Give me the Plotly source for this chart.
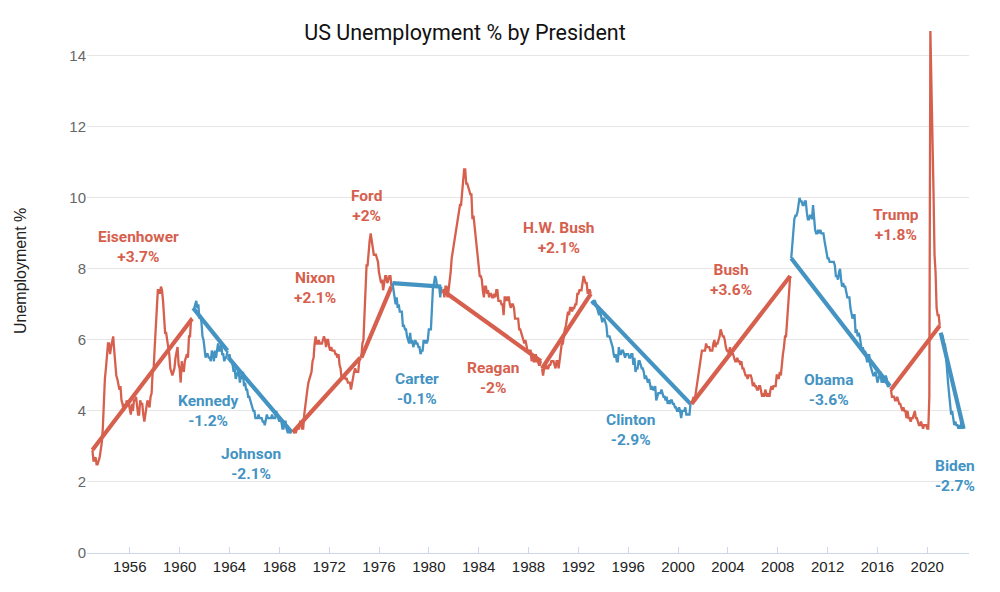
import plotly.graph_objects as go

# Monthly US unemployment rate (%) per presidency; start = (year, month)
eisenhower_start = (1953, 1)
eisenhower = [2.9, 2.6, 2.6, 2.7, 2.5, 2.5, 2.6, 2.7, 2.9, 3.1, 3.5, 4.5,
              4.9, 5.2, 5.7, 5.9, 5.9, 5.6, 5.8, 6.0, 6.1, 5.7, 5.3, 5.0,
              4.9, 4.7, 4.6, 4.7, 4.3, 4.2, 4.0, 4.2, 4.1, 4.3, 4.2, 4.2,
              4.0, 3.9, 4.2, 4.0, 4.3, 4.3, 4.4, 4.1, 3.9, 3.9, 4.3, 4.2,
              4.2, 3.9, 3.7, 3.9, 4.1, 4.3, 4.2, 4.1, 4.4, 4.5, 5.1, 5.2,
              5.8, 6.4, 6.7, 7.4, 7.4, 7.3, 7.5, 7.4, 7.1, 6.7, 6.2, 6.2,
              6.0, 5.9, 5.6, 5.2, 5.1, 5.0, 5.1, 5.2, 5.5, 5.7, 5.8, 5.3,
              5.2, 4.8, 5.4, 5.2, 5.1, 5.4, 5.5, 5.6, 5.5, 6.1, 6.1, 6.6,
              6.6]
kennedy_start = (1961, 2)
kennedy = [6.9, 6.9, 7.0, 7.1, 6.9, 7.0, 6.6, 6.7, 6.5, 6.1, 6.0,
           5.8, 5.5, 5.6, 5.6, 5.5, 5.5, 5.4, 5.7, 5.6, 5.4, 5.7, 5.5,
           5.7, 5.9, 5.7, 5.7, 5.9, 5.6, 5.6, 5.4, 5.5, 5.5, 5.7]
johnson_start = (1963, 12)
johnson = [5.5,
           5.6, 5.4, 5.4, 5.3, 5.1, 5.2, 4.9, 5.0, 5.1, 5.1, 4.8, 5.0,
           4.9, 5.1, 4.7, 4.8, 4.6, 4.6, 4.4, 4.4, 4.3, 4.2, 4.1, 4.0,
           4.0, 3.8, 3.8, 3.8, 3.9, 3.8, 3.8, 3.8, 3.7, 3.7, 3.6, 3.8,
           3.9, 3.8, 3.8, 3.8, 3.8, 3.9, 3.8, 3.8, 3.8, 4.0, 3.9, 3.8,
           3.7, 3.8, 3.7, 3.5, 3.5, 3.7, 3.7, 3.5, 3.4, 3.4, 3.4, 3.4,
           3.4]
nixon_start = (1969, 2)
nixon = [3.4, 3.4, 3.4, 3.4, 3.5, 3.5, 3.5, 3.7, 3.7, 3.5, 3.5,
         3.9, 4.2, 4.4, 4.6, 4.8, 4.9, 5.0, 5.1, 5.4, 5.5, 5.9, 6.1,
         5.9, 5.9, 6.0, 5.9, 5.9, 5.9, 6.0, 6.1, 6.0, 5.8, 6.0, 6.0,
         5.8, 5.7, 5.8, 5.7, 5.7, 5.7, 5.6, 5.6, 5.5, 5.6, 5.3, 5.2,
         4.9, 5.0, 4.9, 5.0, 4.9, 4.9, 4.8, 4.8, 4.8, 4.6, 4.8, 4.9,
         5.1, 5.2, 5.1, 5.1, 5.1, 5.4, 5.5]
ford_start = (1974, 8)
ford = [5.5, 5.9, 6.0, 6.6, 7.2,
        8.1, 8.1, 8.6, 8.8, 9.0, 8.8, 8.6, 8.4, 8.4, 8.4, 8.3, 8.2,
        7.9, 7.7, 7.6, 7.7, 7.4, 7.6, 7.8, 7.8, 7.6, 7.7, 7.8, 7.8,
        7.5]
carter_start = (1977, 2)
carter = [7.6, 7.4, 7.2, 7.0, 7.2, 6.9, 7.0, 6.8, 6.8, 6.8, 6.4,
          6.4, 6.3, 6.3, 6.1, 6.0, 5.9, 6.2, 5.9, 6.0, 5.8, 5.9, 6.0,
          5.9, 5.9, 5.8, 5.8, 5.6, 5.7, 5.7, 6.0, 5.9, 6.0, 5.9, 6.0,
          6.3, 6.3, 6.3, 6.9, 7.5, 7.6, 7.8, 7.7, 7.5, 7.5, 7.5, 7.2,
          7.5]
reagan_start = (1981, 2)
reagan = [7.4, 7.4, 7.2, 7.5, 7.5, 7.2, 7.4, 7.6, 7.9, 8.3, 8.5,
          8.6, 8.9, 9.0, 9.3, 9.4, 9.6, 9.8, 9.8, 10.1, 10.4, 10.8, 10.8,
          10.4, 10.4, 10.3, 10.2, 10.1, 10.1, 9.4, 9.5, 9.2, 8.8, 8.5, 8.3,
          8.0, 7.8, 7.8, 7.7, 7.4, 7.2, 7.5, 7.5, 7.3, 7.4, 7.2, 7.3,
          7.3, 7.2, 7.2, 7.3, 7.2, 7.4, 7.4, 7.1, 7.1, 7.1, 7.0, 7.0,
          6.7, 7.2, 7.2, 7.1, 7.2, 7.2, 7.0, 6.9, 7.0, 7.0, 6.9, 6.6,
          6.6, 6.6, 6.6, 6.3, 6.3, 6.2, 6.1, 6.0, 5.9, 6.0, 5.8, 5.7,
          5.7, 5.7, 5.7, 5.4, 5.6, 5.4, 5.4, 5.6, 5.4, 5.4, 5.3, 5.3,
          5.4]
hw_bush_start = (1989, 2)
hw_bush = [5.2, 5.0, 5.2, 5.2, 5.3, 5.2, 5.2, 5.3, 5.3, 5.4, 5.4,
           5.4, 5.3, 5.2, 5.4, 5.4, 5.2, 5.5, 5.7, 5.9, 5.9, 6.2, 6.3,
           6.4, 6.6, 6.8, 6.7, 6.9, 6.9, 6.8, 6.9, 6.9, 7.0, 7.0, 7.3,
           7.3, 7.4, 7.4, 7.4, 7.6, 7.8, 7.7, 7.6, 7.6, 7.3, 7.4, 7.4,
           7.3]
clinton_start = (1993, 2)
clinton = [7.1, 7.0, 7.1, 7.1, 7.0, 6.9, 6.8, 6.7, 6.8, 6.6, 6.5,
           6.6, 6.6, 6.5, 6.4, 6.1, 6.1, 6.1, 6.0, 5.9, 5.8, 5.6, 5.5,
           5.6, 5.4, 5.4, 5.8, 5.6, 5.6, 5.7, 5.7, 5.6, 5.5, 5.6, 5.6,
           5.6, 5.5, 5.5, 5.6, 5.6, 5.3, 5.5, 5.1, 5.2, 5.2, 5.4, 5.4,
           5.3, 5.2, 5.2, 5.1, 4.9, 5.0, 4.9, 4.8, 4.9, 4.7, 4.6, 4.7,
           4.6, 4.6, 4.7, 4.3, 4.4, 4.5, 4.5, 4.5, 4.6, 4.5, 4.4, 4.4,
           4.3, 4.4, 4.2, 4.3, 4.2, 4.3, 4.3, 4.2, 4.2, 4.1, 4.1, 4.0,
           4.0, 4.1, 4.0, 3.8, 4.0, 4.0, 4.0, 4.1, 3.9, 3.9, 3.9, 3.9,
           4.2]
bush_start = (2001, 2)
bush = [4.2, 4.3, 4.4, 4.3, 4.5, 4.6, 4.9, 5.0, 5.3, 5.5, 5.7,
        5.7, 5.7, 5.7, 5.9, 5.8, 5.8, 5.8, 5.7, 5.7, 5.7, 5.9, 6.0,
        5.8, 5.9, 5.9, 6.0, 6.1, 6.3, 6.2, 6.1, 6.1, 6.0, 5.8, 5.7,
        5.7, 5.6, 5.8, 5.6, 5.6, 5.6, 5.5, 5.4, 5.4, 5.5, 5.4, 5.4,
        5.3, 5.4, 5.2, 5.2, 5.1, 5.0, 5.0, 4.9, 5.0, 5.0, 5.0, 4.9,
        4.7, 4.8, 4.7, 4.7, 4.6, 4.6, 4.7, 4.7, 4.5, 4.4, 4.5, 4.4,
        4.6, 4.5, 4.4, 4.5, 4.4, 4.6, 4.7, 4.6, 4.7, 4.7, 4.7, 5.0,
        5.0, 4.9, 5.1, 5.0, 5.4, 5.6, 5.8, 6.1, 6.1, 6.5, 6.8, 7.3,
        7.8]
obama_start = (2009, 2)
obama = [8.3, 8.7, 9.0, 9.4, 9.5, 9.5, 9.6, 9.8, 10.0, 9.9, 9.9,
         9.8, 9.8, 9.9, 9.9, 9.6, 9.4, 9.4, 9.5, 9.5, 9.4, 9.8, 9.3,
         9.1, 9.0, 9.0, 9.1, 9.0, 9.1, 9.0, 9.0, 9.0, 8.8, 8.6, 8.5,
         8.3, 8.3, 8.2, 8.2, 8.2, 8.2, 8.2, 8.1, 7.8, 7.8, 7.7, 7.9,
         8.0, 7.7, 7.5, 7.6, 7.5, 7.5, 7.3, 7.2, 7.2, 7.2, 6.9, 6.7,
         6.6, 6.7, 6.7, 6.2, 6.3, 6.1, 6.2, 6.1, 5.9, 5.7, 5.8, 5.6,
         5.7, 5.5, 5.4, 5.4, 5.6, 5.3, 5.2, 5.1, 5.0, 5.0, 5.1, 5.0,
         4.8, 4.9, 5.0, 5.1, 4.8, 4.9, 4.8, 4.9, 5.0, 4.9, 4.7, 4.7,
         4.7]
trump_start = (2017, 2)
trump = [4.6, 4.4, 4.4, 4.4, 4.3, 4.3, 4.4, 4.3, 4.2, 4.2, 4.1,
         4.0, 4.1, 4.0, 4.0, 3.8, 4.0, 3.8, 3.8, 3.7, 3.8, 3.8, 3.9,
         4.0, 3.8, 3.8, 3.7, 3.6, 3.6, 3.7, 3.6, 3.5, 3.6, 3.6, 3.6,
         3.5, 3.5, 4.4, 14.7, 13.2, 11.0, 10.2, 8.4, 7.9, 6.9, 6.7, 6.7,
         6.4]
biden_start = (2021, 2)
biden = [6.2, 6.1, 6.1, 5.8, 5.9, 5.4, 5.2, 4.8, 4.5, 4.2, 3.9,
         4.0, 3.8, 3.6, 3.7, 3.6, 3.6, 3.5, 3.6, 3.5, 3.7, 3.6, 3.5]

names = ["Eisenhower", "Kennedy", "Johnson", "Nixon", "Ford", "Carter", "Reagan",
         "H.W. Bush", "Clinton", "Bush", "Obama", "Trump", "Biden"]
parties = ["R", "D", "D", "R", "R", "D", "R", "R", "D", "R", "D", "R", "D"]
series = [eisenhower, kennedy, johnson, nixon, ford, carter, reagan,
          hw_bush, clinton, bush, obama, trump, biden]
starts = [eisenhower_start, kennedy_start, johnson_start, nixon_start, ford_start,
          carter_start, reagan_start, hw_bush_start, clinton_start, bush_start,
          obama_start, trump_start, biden_start]
change_labels = ["+3.7%", "-1.2%", "-2.1%", "+2.1%", "+2%", "-0.1%", "-2%",
                 "+2.1%", "-2.9%", "+3.6%", "-3.6%", "+1.8%", "-2.7%"]
# label anchor positions (year, %)
label_x = [1956.66, 1962.28, 1965.73, 1970.86, 1974.96, 1979.05, 1985.12,
           1990.45, 1996.22, 2004.25, 2012.11, 2017.49, 2022.23]
label_y = [8.61, 4.01, 2.51, 7.45, 9.76, 4.61, 4.92,
           8.86, 3.46, 7.68, 4.58, 9.23, 2.17]

colors = {"R": "#d6604d", "D": "#4393c3"}

fig = go.Figure()
for name, party, vals, (y0, m0) in zip(names, parties, series, starts):
    xs = [y0 + (m0 - 1 + i) / 12 for i in range(len(vals))]
    c = colors[party]
    fig.add_trace(go.Scatter(x=xs, y=vals, mode="lines", name=name,
                             line=dict(color=c, width=2.3), showlegend=False))
    fig.add_trace(go.Scatter(x=[xs[0], xs[-1]], y=[vals[0], vals[-1]], mode="lines",
                             name=name + " trend",
                             line=dict(color=c, width=4.2), showlegend=False))

for name, party, lab, lx, ly in zip(names, parties, change_labels, label_x, label_y):
    fig.add_annotation(x=lx, y=ly, xref="x", yref="y", text=f"<b>{name}<br>{lab}</b>",
                       showarrow=False, align="center",
                       font=dict(family="Roboto", size=15.5, color=colors[party]))

fig.add_annotation(x=-0.076, y=0.534, xref="paper", yref="paper", text="Unemployment %",
                   textangle=-90, showarrow=False, xanchor="center", yanchor="middle",
                   font=dict(family="Liberation Sans, Arial", size=16, color="#222"))

# page body has an 8px margin; margins below compensate so the plot lands in place
fig.update_layout(
    width=1000, height=592,
    paper_bgcolor="white", plot_bgcolor="white",
    margin=dict(l=79, r=39, t=17, b=47),
    title=dict(text="US Unemployment % by President", x=0.457, xanchor="center",
               y=1 - 24 / 592, yanchor="middle",
               font=dict(family="Roboto", size=21.5, color="#111")),
    xaxis=dict(range=[1952.565, 2023.35], tickvals=list(range(1956, 2024, 4)),
               showgrid=False, zeroline=False, showline=True, linecolor="#ccd6eb",
               linewidth=1, ticks="inside", ticklen=6, tickcolor="#ccd6eb",
               tickfont=dict(family="Liberation Sans, Arial", size=15, color="#222")),
    yaxis=dict(range=[0, 14.87], tickvals=[0, 2, 4, 6, 8, 10, 12, 14],
               showgrid=True, gridcolor="#e6e6e6", gridwidth=1, zeroline=False,
               showline=False, ticks="",
               tickfont=dict(family="Liberation Sans, Arial", size=15, color="#666")),
)

fig.write_html("out.html")
